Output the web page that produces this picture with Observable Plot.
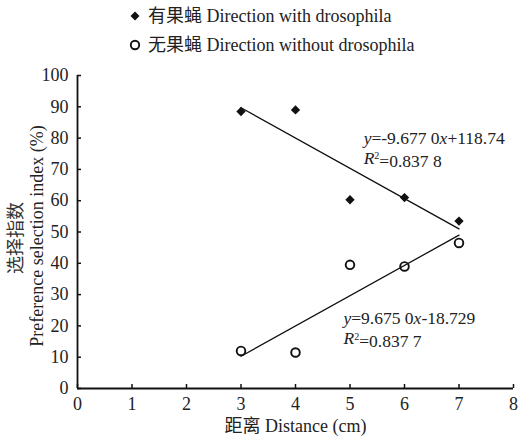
<!DOCTYPE html>
<html><head><meta charset="utf-8">
<script src="https://cdn.jsdelivr.net/npm/d3@7"></script>
<script src="https://cdn.jsdelivr.net/npm/@observablehq/plot@0.6"></script>
<style>
body{margin:0;background:#fff;font-family:"Liberation Serif","Noto Sans CJK SC",serif;color:#222;}
#wrap{width:518px;height:437px;position:relative;overflow:hidden;}
#legend{position:absolute;left:0;top:0;width:518px;height:60px;}
.item{position:absolute;left:128px;display:flex;align-items:center;font-size:18px;white-space:nowrap;line-height:20px;}
.item svg{margin-right:6px}
#chart{position:absolute;left:0;top:60px;}
</style></head><body>
<div id="wrap"><div id="legend"></div><div id="chart"></div></div>
<script>
const distance = [3, 4, 5, 6, 7];
const withFly = [88.5, 89.0, 60.3, 61.0, 53.5];
const withoutFly = [12.0, 11.5, 39.5, 39.0, 46.5];
const seriesNames = ["有果蝇 Direction with drosophila", "无果蝇 Direction without drosophila"];
const slopes = [-9.677, 9.675];
const intercepts = [118.74, -18.729];
const eqLabels = ["y=-9.677 0x+118.74", "y=9.675 0x-18.729"];
const r2Labels = ["R2=0.837 8", "R2=0.837 7"];
const xTicks = [0, 1, 2, 3, 4, 5, 6, 7, 8];
const yTicks = [0, 10, 20, 30, 40, 50, 60, 70, 80, 90, 100];
const xLabel = "距离 Distance (cm)";
const yLabelZh = "选择指数";
const yLabelEn = "Preference selection index (%)";

const pts = distance.flatMap((d, i) => [
  {x: d, y: withFly[i], s: seriesNames[0]},
  {x: d, y: withoutFly[i], s: seriesNames[1]}
]);
const xr = d3.extent(distance);
const trend = [0, 1].map(k => xr.map(x => ({x, y: slopes[k] * x + intercepts[k], k})));

// legend
const leg = document.getElementById("legend");
seriesNames.forEach((name, i) => {
  const div = document.createElement("div");
  div.className = "item";
  div.style.top = (i === 0 ? 6 : 35) + "px";
  div.innerHTML = (i === 0
    ? '<svg width="14" height="14"><path d="M7,2.5L11.5,7L7,11.5L2.5,7Z" fill="#111"/></svg>'
    : '<svg width="14" height="14"><circle cx="7" cy="7" r="4.2" fill="none" stroke="#111" stroke-width="1.9"/></svg>')
    + '<span></span>';
  div.querySelector("span").textContent = name;
  leg.appendChild(div);
});

const W = 518, H = 377;
const FS = 18;
const chart = Plot.plot({
  width: W, height: H,
  marginTop: 15, marginBottom: 49, marginLeft: 77, marginRight: 5,
  style: {fontFamily: '"Liberation Serif","Noto Sans CJK SC",serif', fontSize: FS + "px", color: "#222", background: "#fff"},
  x: {domain: [0, 8]},
  y: {domain: [0, 100]},
  marks: [
    Plot.axisX(xTicks, {tickSize: -4, tickPadding: 13, label: null, stroke: "#111", strokeWidth: 1.5, fontSize: FS}),
    Plot.axisY(yTicks, {tickSize: -4, tickPadding: 13, label: null, stroke: "#111", strokeWidth: 1.5, fontSize: FS}),
    Plot.ruleX([0], {stroke: "#111", strokeWidth: 1.8}),
    Plot.ruleY([0], {stroke: "#111", strokeWidth: 1.8}),
    ...trend.map(t => Plot.line(t, {x: "x", y: "y", stroke: "#111", strokeWidth: 1.3})),
    Plot.dot(pts.filter(d => d.s === seriesNames[0]), {x: "x", y: "y", symbol: "diamond2", r: 4.2, fill: "#111", stroke: "none"}),
    Plot.dot(pts.filter(d => d.s === seriesNames[1]), {x: "x", y: "y", symbol: "circle", r: 4.3, fill: "none", stroke: "#111", strokeWidth: 1.9}),
    Plot.text([eqLabels[0]], {x: 5.25, y: 80, text: d => d, textAnchor: "start", fontSize: 17.5, fill: "#222"}),
    Plot.text([r2Labels[0]], {x: 5.25, y: 73.6, text: d => d, textAnchor: "start", fontSize: 17.5, fill: "#222"}),
    Plot.text([eqLabels[1]], {x: 4.88, y: 22.4, text: d => d, textAnchor: "start", fontSize: 17.5, fill: "#222"}),
    Plot.text([r2Labels[1]], {x: 4.88, y: 16.0, text: d => d, textAnchor: "start", fontSize: 17.5, fill: "#222"}),
    Plot.text([xLabel], {frameAnchor: "bottom", lineAnchor: "middle", textAnchor: "middle", dy: 38, text: d => d, fontSize: FS, fill: "#222"}),
    Plot.text([yLabelEn], {frameAnchor: "left", textAnchor: "middle", lineAnchor: "middle", dx: -40, dy: 4, rotate: -90, text: d => d, fontSize: FS, fill: "#222"}),
    Plot.text([yLabelZh], {frameAnchor: "left", textAnchor: "middle", lineAnchor: "middle", dx: -61, dy: 6, rotate: -90, text: d => d, fontSize: FS, fill: "#333"})
  ]
});
document.getElementById("chart").appendChild(chart);

// italic variables and superscript in equation labels
d3.select(chart).selectAll("text").each(function() {
  const el = d3.select(this);
  const t = el.text();
  if (/^y=/.test(t)) {
    const parts = t.split(/(x|y)/).filter(s => s !== "");
    el.text(null);
    parts.forEach(p => el.append("tspan").text(p).style("font-style", p === "x" || p === "y" ? "italic" : null));
  } else if (/^R2=/.test(t)) {
    el.text(null);
    el.append("tspan").text("R").style("font-style", "italic");
    el.append("tspan").text("2").attr("dy", "-0.45em").style("font-size", "10px");
    el.append("tspan").text(t.slice(2)).attr("dy", "0.45em");
  }
});
</script>
</body></html>
